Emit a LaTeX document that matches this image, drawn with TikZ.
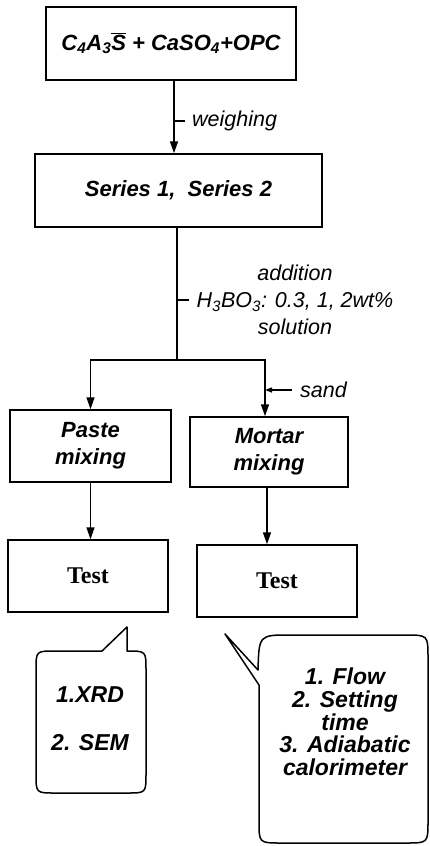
\documentclass[tikz,border=0pt]{standalone}
\usepackage{fontspec}
\setmainfont{Liberation Sans}
\newfontfamily\seriff{Liberation Serif}
\usetikzlibrary{arrows.meta}
\newcommand\boxfont{\fontsize{22}{27}\selectfont\bfseries\itshape}
\newcommand\lblfont{\fontsize{21.5}{27}\selectfont\itshape}
\newcommand\testfont{\seriff\fontsize{24}{28}\selectfont\bfseries}
\newcommand\calloutfont{\fontsize{23}{22.7}\selectfont\bfseries\itshape}
\begin{document}
\begin{tikzpicture}[x=1pt,y=-1pt,
  box/.style={draw,line width=1.5pt,inner sep=0pt,align=center,font=\boxfont},
  ln/.style={line width=1.5pt},
  arr/.style={line width=1.5pt,-{Triangle[length=12pt,width=8pt]}},
  smallarr/.style={line width=1.3pt,-{Triangle[length=7pt,width=5pt]}},
  lbl/.style={font=\lblfont,inner sep=0pt,align=center},
  callout/.style={line width=1.5pt,line join=round},
  ctext/.style={font=\calloutfont,inner sep=0pt,align=center}]
\useasboundingbox (0,0) rectangle (430,846);
% boxes
\node[box,minimum width=250pt,minimum height=73pt] (mix) at (171,43.5)
  {C\textsubscript{4}A\textsubscript{3}$\overline{\mbox{S}}$ + CaSO\textsubscript{4}+OPC};
\node[box,minimum width=287pt,minimum height=73pt] (series) at (178.5,190.5) {Series 1,\ \ Series 2};
\node[box,minimum width=161pt,minimum height=72pt] (paste) at (90.5,446) {Paste\\mixing};
\node[box,minimum width=158pt,minimum height=70pt] (mortar) at (269,452) {Mortar\\mixing};
\node[box,font=\testfont,minimum width=160pt,minimum height=72pt] (test1) at (88,576) {Test};
\node[box,font=\testfont,minimum width=160pt,minimum height=72pt] (test2) at (277,581) {Test};
% weighing
\coordinate (c1) at (174,0);
\draw[arr] (mix.south -| c1) -- (series.north -| c1);
\node[lbl,anchor=west] (weigh) at (192,121) {weighing};
\draw[ln] (c1 |- weigh.west) -- ++(11,0);
% split
\coordinate (c2) at (177,0);
\coordinate (split) at (177,360);
\coordinate (c3) at (265,0);
\draw[ln] (series.south -| c2) -- (split);
\draw[arr] (split) -| (paste.north);
\draw[arr] (split) -| (mortar.north -| c3);
\node[lbl] (add) at (295,300) {addition\\H\textsubscript{3}BO\textsubscript{3}: 0.3, 1, 2wt\%\\solution};
\draw[ln] (c2 |- add) -- ++(12,0);
% sand
\node[lbl,anchor=west] (sand) at (300,390) {sand};
\coordinate (sandst) at (292,390);
\draw[smallarr] (sandst) -- (c3 |- sandst);
% to tests
\draw[arr] (paste.south) -- (paste.south |- test1.north);
\coordinate (c4) at (267,0);
\draw[arr] (mortar.south -| c4) -- (test2.north -| c4);
% callout 1
\draw[callout] (102,651) -- (127,627) -- (127,651) .. controls (146,651) .. (146,670)
  -- (146,774) .. controls (146,793) .. (127,793) -- (55,793) .. controls (36,793) .. (36,774)
  -- (36,670) .. controls (36,651) .. (55,651) -- cycle;
\node[ctext] (xrd) at (90,719) {1.XRD\\[25pt]2. SEM};
% callout 2
\draw[callout] (259,685) -- (225,634) -- (258,670) .. controls (259,635) .. (290,635)
  -- (405,635) .. controls (428,635) .. (428,658) -- (428,821) .. controls (428,843) .. (406,843)
  -- (281,843) .. controls (259,843) .. (259,821) -- cycle;
\node[ctext] (flow) at (345,722) {1. Flow\\2. Setting\\time\\3. Adiabatic\\calorimeter};
\end{tikzpicture}
\end{document}
